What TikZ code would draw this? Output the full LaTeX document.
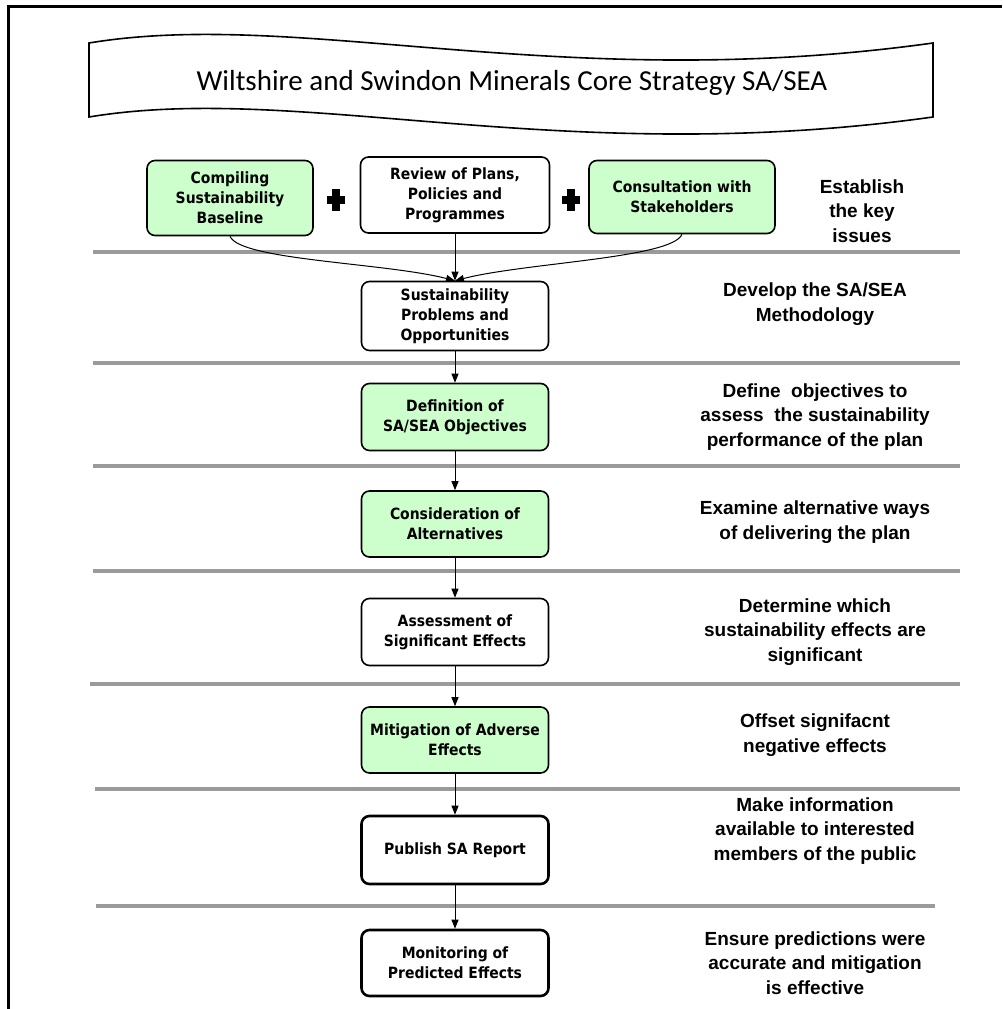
\documentclass[tikz,border=0pt]{standalone}
\usepackage{fontspec}
\setmainfont{Liberation Sans}
\newfontfamily\boxfont{DejaVu Sans Condensed}
\newfontfamily\bannerfont{Carlito}
\usetikzlibrary{arrows.meta}
\definecolor{stagegreen}{HTML}{CCFFCC}
\definecolor{bandgray}{HTML}{9A9A9A}

\begin{document}
\begin{tikzpicture}[x=1pt,y=-1pt,
    stage/.style={draw,line width=1.6pt,rounded corners=8pt,fill=white,minimum width=187pt,minimum height=67pt,align=center,inner sep=2pt,font=\boxfont\bfseries\fontsize{15.5}{20}\selectfont},
    shaded/.style={fill=stagegreen},
    heavy/.style={line width=2.6pt},
    aim/.style={align=center,font=\bfseries\fontsize{19}{24.5}\selectfont},
    band/.style={bandgray,line width=3.5pt},
    >={Triangle[length=9pt,width=7pt]}]
    \useasboundingbox (0,0) rectangle (1002,1009);
    \draw[line width=3pt] (8,1009) -- (8,6) -- (1002,6);
    \draw[line width=1.6pt,fill=white] (89,43) .. controls (300,8) and (560,95) .. (933,43) -- (933,117) .. controls (560,169) and (300,82) .. (89,117) -- cycle;
    \node (title) at (512,83) {\bannerfont\fontsize{29}{34}\selectfont Wiltshire and Swindon Minerals Core Strategy SA/SEA};
    \foreach \y/\a/\b in {252/93/960, 363/93/960, 466/93/960, 571/93/960, 684/90/960, 789/95/960, 906/96/935}
      \draw[band] (\a,\y) -- (\b,\y);
    \node[stage,shaded,minimum width=166pt,minimum height=75pt] (baseline) at (230,198) {Compiling\\Sustainability\\Baseline};
    \node[stage,minimum width=189pt,minimum height=76pt] (review) at (455,195) {Review of Plans,\\Policies and\\Programmes};
    \node[stage,shaded,minimum width=186pt,minimum height=73pt] (consult) at (682,197) {Consultation with\\Stakeholders};
    \fill (332,189) rectangle (340,211);
    \fill (327,196) rectangle (345,204);
    \fill (567,189) rectangle (575,211);
    \fill (562,196) rectangle (580,204);
    \node[stage,minimum height=69pt] (problems) at (455,316) {Sustainability\\Problems and\\Opportunities};
    \node[stage,shaded] (objectives) at (455,417) {Definition of\\SA/SEA Objectives};
    \node[stage,shaded,minimum height=66pt] (alternatives) at (455,524) {Consideration of\\Alternatives};
    \node[stage] (assessment) at (455,632) {Assessment of\\Significant Effects};
    \node[stage,shaded,minimum height=66pt] (mitigation) at (455,740) {Mitigation of Adverse\\Effects};
    \node[stage,heavy,minimum height=68pt] (publish) at (455,850) {Publish SA Report};
    \node[stage,heavy,minimum height=66pt] (monitoring) at (455,963) {Monitoring of\\Predicted Effects};
    \draw[->,line width=1pt] (baseline.south) .. controls +(10,24) and +(-70,-18) .. (problems.north);
    \draw[->,line width=1pt] (review.south) -- (problems.north);
    \draw[->,line width=1pt] (consult.south) .. controls +(-10,24) and +(70,-18) .. (problems.north);
    \draw[->,line width=1pt] (problems) -- (objectives);
    \draw[->,line width=1pt] (objectives) -- (alternatives);
    \draw[->,line width=1pt] (alternatives) -- (assessment);
    \draw[->,line width=1pt] (assessment) -- (mitigation);
    \draw[->,line width=1pt] (mitigation) -- (publish);
    \draw[->,line width=1pt] (publish) -- (monitoring);
    \node[aim] (keyissues) at (862,211) {Establish\\the key\\issues};
    \node[aim] (method) at (815,304) {Develop the SA/SEA\\Methodology};
    \node[aim] (define) at (815,417) {Define\ \ objectives to\\assess\ \ the sustainability\\performance of the plan};
    \node[aim] (examine) at (815,522) {Examine alternative ways\\of delivering the plan};
    \node[aim] (determine) at (815,632) {Determine which\\sustainability effects are\\significant};
    \node[aim] (offset) at (815,735) {Offset signifacnt\\negative effects};
    \node[aim] (inform) at (815,831) {Make information\\available to interested\\members of the public};
    \node[aim] (ensure) at (815,963) {Ensure predictions were\\accurate and mitigation\\is effective};
  \end{tikzpicture}
\end{document}
